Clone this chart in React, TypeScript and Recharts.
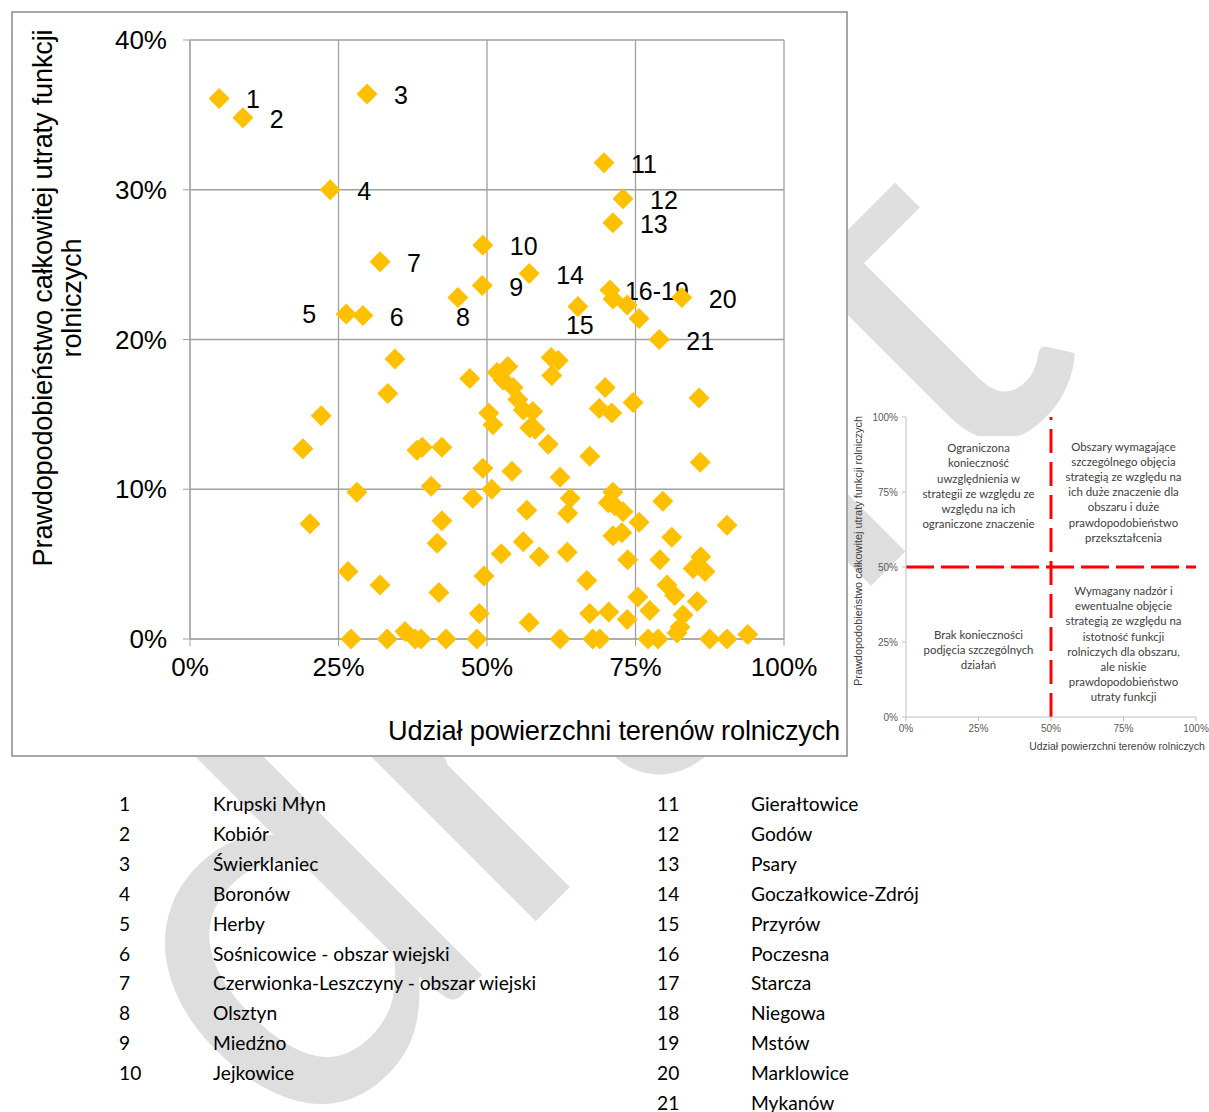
import React from "react";
import {
  CartesianGrid,
  ReferenceLine,
  Scatter,
  ScatterChart,
  XAxis,
  YAxis,
} from "recharts";

// labelled municipalities (share of farmland %, probability of loss %)
const labelText = ["1", "2", "3", "4", "5", "6", "7", "8", "9", "10", "11", "12", "13", "14", "15", "16-19", "", "", "", "20", "21"];
const labelX = [4.9, 8.9, 29.8, 23.6, 26.3, 29.1, 32.0, 45.1, 49.2, 49.3, 69.7, 72.9, 71.2, 57.1, 65.3, 70.7, 71.2, 73.6, 75.6, 82.8, 79.0];
const labelY = [36.1, 34.8, 36.4, 30.0, 21.7, 21.6, 25.2, 22.8, 23.6, 26.3, 31.8, 29.4, 27.8, 24.4, 22.2, 23.3, 22.7, 22.3, 21.4, 22.8, 20.0];

// the remaining municipalities
const otherX = [
  34.5, 33.3, 22.1, 19.0, 28.1, 20.2, 26.6, 32.0, 27.1, 33.2, 36.2, 37.9, 38.9, 43.1, 48.3,
  38.2, 39.1, 42.4, 40.6, 42.4, 41.6, 41.9, 48.7, 49.5, 47.6, 50.8, 49.3, 50.3, 51.0, 47.1,
  51.7, 53.5, 52.7, 54.4, 55.2, 56.1, 57.7, 57.2, 58.1, 52.4, 60.8, 62.0, 60.9, 60.3, 69.9,
  74.6, 68.9, 71.0, 67.3, 85.7, 85.9, 54.2, 62.3, 64.0, 63.6, 56.7, 71.2, 70.4, 71.5, 72.9,
  79.6, 75.6, 90.4, 71.2, 72.7, 81.1, 56.1, 58.8, 63.5, 73.7, 79.1, 86.0, 84.7, 86.7, 66.8,
  80.3, 81.6, 75.4, 85.4, 77.4, 67.3, 70.5, 73.6, 83.0, 82.5, 82.0, 57.1, 62.3, 67.8, 69.0,
  77.1, 78.8, 87.5, 90.4, 93.9,
];
const otherY = [
  18.7, 16.4, 14.9, 12.7, 9.8, 7.7, 4.5, 3.6, 0, 0, 0.5, 0, 0, 0, 0,
  12.6, 12.8, 12.8, 10.2, 7.9, 6.4, 3.1, 1.7, 4.2, 9.4, 10.0, 11.4, 15.1, 14.3, 17.4,
  17.8, 18.2, 17.3, 16.8, 16.0, 15.3, 15.2, 14.1, 14.0, 5.7, 18.8, 18.6, 17.6, 13.0, 16.8,
  15.8, 15.4, 15.1, 12.2, 16.1, 11.8, 11.2, 10.8, 9.4, 8.4, 8.6, 9.8, 9.1, 8.9, 8.5,
  9.2, 7.8, 7.6, 6.9, 7.1, 6.8, 6.5, 5.5, 5.8, 5.3, 5.3, 5.5, 4.7, 4.5, 3.9,
  3.6, 2.9, 2.8, 2.5, 1.9, 1.7, 1.8, 1.3, 1.6, 0.8, 0.4, 1.1, 0, 0, 0,
  0, 0, 0, 0, 0.3,
];

const mainXTicks = [0, 25, 50, 75, 100];
const mainYTicks = [0, 10, 20, 30, 40];
const insetTicks = [0, 25, 50, 75, 100];

// inset: quadrant centres and their descriptions
const quadrantX = [25, 75, 25, 75];
const quadrantY = [75, 75, 25, 25];
const quadrantTexts = [
  ["Ograniczona", "konieczność", "uwzględnienia w", "strategii ze względu ze", "względu na ich", "ograniczone znaczenie"],
  ["Obszary wymagające", "szczególnego objęcia", "strategią ze względu na", "ich duże znaczenie dla", "obszaru i duże", "prawdopodobieństwo", "przekształcenia"],
  ["Brak konieczności", "podjęcia szczególnych", "działań"],
  ["Wymagany nadzór i", "ewentualne objęcie", "strategią ze względu na", "istotność funkcji", "rolniczych dla obszaru,", "ale niskie", "prawdopodobieństwo", "utraty funkcji"],
];

const legendNumbersLeft = ["1", "2", "3", "4", "5", "6", "7", "8", "9", "10"];
const legendNamesLeft = [
  "Krupski Młyn",
  "Kobiór",
  "Świerklaniec",
  "Boronów",
  "Herby",
  "Sośnicowice - obszar wiejski",
  "Czerwionka-Leszczyny - obszar wiejski",
  "Olsztyn",
  "Miedźno",
  "Jejkowice",
];
const legendNumbersRight = ["11", "12", "13", "14", "15", "16", "17", "18", "19", "20", "21"];
const legendNamesRight = [
  "Gierałtowice",
  "Godów",
  "Psary",
  "Goczałkowice-Zdrój",
  "Przyrów",
  "Poczesna",
  "Starcza",
  "Niegowa",
  "Mstów",
  "Marklowice",
  "Mykanów",
];

const labeledPoints = labelX.map((x, i) => ({ x, y: labelY[i], label: labelText[i] }));
const otherPoints = otherX.map((x, i) => ({ x, y: otherY[i], label: "" }));

// where a number sits relative to its diamond
const labelShift: Record<string, [number, number]> = {
  "5": [-44, 0],
  "8": [-2, 19],
  "15": [-12, 18],
  "16-19": [15, 1],
};

// small vertical offsets of each quadrant text block from its centre
const quadrantShift = [-6, 0, 8, 2];
const quadrantPoints = quadrantTexts.map((lines, i) => ({
  x: quadrantX[i],
  y: quadrantY[i],
  lines,
  shift: quadrantShift[i],
}));

const ARIAL = "'Liberation Sans', Arial, sans-serif";
const CALIBRI = "Lato, 'Open Sans', sans-serif";
const YELLOW = "#FFC000";

function Diamond(props: any) {
  const { cx, cy, payload } = props;
  const r = 10.5;
  const shift = labelShift[payload.label] ?? [27, 1];
  return (
    <g>
      <polygon
        points={`${cx},${cy - r} ${cx + r},${cy} ${cx},${cy + r} ${cx - r},${cy}`}
        fill={YELLOW}
      />
      {payload.label ? (
        <text
          x={cx + shift[0]}
          y={cy + shift[1]}
          dy="0.36em"
          fontFamily={ARIAL}
          fontSize={25}
          fill="#000"
        >
          {payload.label}
        </text>
      ) : null}
    </g>
  );
}

function MainChart() {
  return (
    <div style={{ position: "absolute", left: 0, top: 0, width: 848, height: 757 }}>
      <div
        style={{
          position: "absolute",
          left: 11,
          top: 11,
          width: 837,
          height: 746,
          border: "2px solid #a6a6a6",
          boxSizing: "border-box",
          background: "#fff",
        }}
      />
      <div style={{ position: "absolute", left: 0, top: 0 }}>
        <ScatterChart width={848} height={757} margin={{ top: 40, right: 64, bottom: 0, left: 0 }}>
          <CartesianGrid stroke="#a0a0a0" strokeWidth={1.3} />
          <XAxis
            type="number"
            dataKey="x"
            domain={[0, 100]}
            ticks={mainXTicks}
            tickFormatter={(v) => `${v}%`}
            height={118}
            tickSize={7}
            tickMargin={12}
            stroke="#a0a0a0"
            tick={{ fill: "#000", fontSize: 26, fontFamily: ARIAL }}
            label={(p: any) => {
              const vb = p.viewBox;
              return (
                <text
                  x={vb.x + vb.width + 56}
                  y={vb.y + 91}
                  dy="0.36em"
                  textAnchor="end"
                  fontFamily={ARIAL}
                  fontSize={27.2}
                  letterSpacing={-0.2}
                  fill="#000"
                >
                  Udział powierzchni terenów rolniczych
                </text>
              );
            }}
          />
          <YAxis
            type="number"
            dataKey="y"
            domain={[0, 40]}
            ticks={mainYTicks}
            tickFormatter={(v) => `${v}%`}
            width={190}
            tickSize={7}
            tickMargin={16}
            stroke="#a0a0a0"
            tick={{ fill: "#000", fontSize: 26, fontFamily: ARIAL }}
            label={(p: any) => {
              const vb = p.viewBox;
              const cy = vb.y + 258;
              return (
                <g fontFamily={ARIAL} fontSize={27.2} letterSpacing={-0.2} fill="#000" textAnchor="middle">
                  <text x={42} y={cy} dy="0.36em" transform={`rotate(-90, 42, ${cy})`}>
                    Prawdopodobieństwo całkowitej utraty funkcji
                  </text>
                  <text x={71} y={cy} dy="0.36em" transform={`rotate(-90, 71, ${cy})`}>
                    rolniczych
                  </text>
                </g>
              );
            }}
          />
          <Scatter data={otherPoints} shape={<Diamond />} isAnimationActive={false} />
          <Scatter data={labeledPoints} shape={<Diamond />} isAnimationActive={false} />
        </ScatterChart>
      </div>
    </div>
  );
}

function QuadrantNote(props: any) {
  const { cx, cy, payload } = props;
  const lines: string[] = payload.lines;
  const lh = 15.2;
  const top = cy + payload.shift - ((lines.length - 1) * lh) / 2;
  return (
    <g>
      <rect x={cx - 66} y={top - 12} width={132} height={(lines.length - 1) * lh + 24} fill="#fff" />
      {lines.map((l, i) => (
        <text
          key={i}
          x={cx}
          y={top + i * lh}
          dy="0.36em"
          textAnchor="middle"
          fontFamily={CALIBRI}
          fontSize={11.4}
          fill="#404040"
        >
          {l}
        </text>
      ))}
    </g>
  );
}

function InsetChart() {
  const axisTick = { fill: "#595959", fontSize: 10, fontFamily: ARIAL };
  return (
    <div style={{ position: "absolute", left: 848, top: 400 }}>
      <ScatterChart width={361} height={360} margin={{ top: 17, right: 13, bottom: 0, left: 0 }}>
        <XAxis
          type="number"
          dataKey="x"
          domain={[0, 100]}
          ticks={insetTicks}
          tickFormatter={(v) => `${v}%`}
          height={43}
          tickSize={4}
          tickMargin={4}
          stroke="#bfbfbf"
          tick={axisTick}
          label={(p: any) => {
            const vb = p.viewBox;
            return (
              <text
                x={vb.x + 66 + vb.width / 2}
                y={vb.y + 29}
                dy="0.36em"
                textAnchor="middle"
                fontFamily={ARIAL}
                fontSize={10.4}
                fill="#404040"
              >
                Udział  powierzchni terenów rolniczych
              </text>
            );
          }}
        />
        <YAxis
          type="number"
          dataKey="y"
          domain={[0, 100]}
          ticks={insetTicks}
          tickFormatter={(v) => `${v}%`}
          width={58}
          tickSize={4}
          tickMargin={4}
          stroke="#bfbfbf"
          tick={axisTick}
          label={(p: any) => {
            const vb = p.viewBox;
            const cy = vb.y + 134;
            return (
              <text
                x={10}
                y={cy}
                dy="0.36em"
                textAnchor="middle"
                transform={`rotate(-90, 10, ${cy})`}
                fontFamily={ARIAL}
                fontSize={10.9}
                fill="#404040"
              >
                Prawdopodobieństwo całkowitej utraty funkcji  rolniczych
              </text>
            );
          }}
        />
        <Scatter data={quadrantPoints} shape={<QuadrantNote />} isAnimationActive={false} />
        <ReferenceLine x={50} stroke="#ff0000" strokeWidth={3} strokeDasharray="24 9" />
        <ReferenceLine y={50} stroke="#ff0000" strokeWidth={3} strokeDasharray="28 7" />
      </ScatterChart>
    </div>
  );
}

function Legend() {
  const row = (num: string, name: string, i: number, numX: number, nameX: number) => (
    <React.Fragment key={num}>
      <div style={{ position: "absolute", left: numX, top: 790 + i * 29.9, lineHeight: "28px" }}>{num}</div>
      <div style={{ position: "absolute", left: nameX, top: 790 + i * 29.9, lineHeight: "28px", whiteSpace: "nowrap" }}>
        {name}
      </div>
    </React.Fragment>
  );
  return (
    <div style={{ position: "absolute", left: 0, top: 0, fontFamily: CALIBRI, fontSize: 19.2, color: "#000" }}>
      {legendNumbersLeft.map((n, i) => row(n, legendNamesLeft[i], i, 119, 213))}
      {legendNumbersRight.map((n, i) => row(n, legendNamesRight[i], i, 657, 751))}
    </div>
  );
}

function Watermark() {
  return (
    <svg width={1209} height={1112} style={{ position: "absolute", left: 0, top: 0 }}>
      <text
        x={295}
        y={1162}
        transform="rotate(-45, 295, 1162)"
        fontFamily="Lato, sans-serif"
        fontSize={540}
        fill="#dedede"
      >
        draft
      </text>
    </svg>
  );
}

export default function App() {
  return (
    <div style={{ position: "absolute", left: 0, top: 0, width: 1209, height: 1112, background: "#fff", overflow: "hidden" }}>
      <Watermark />
      <MainChart />
      <InsetChart />
      <Legend />
    </div>
  );
}
